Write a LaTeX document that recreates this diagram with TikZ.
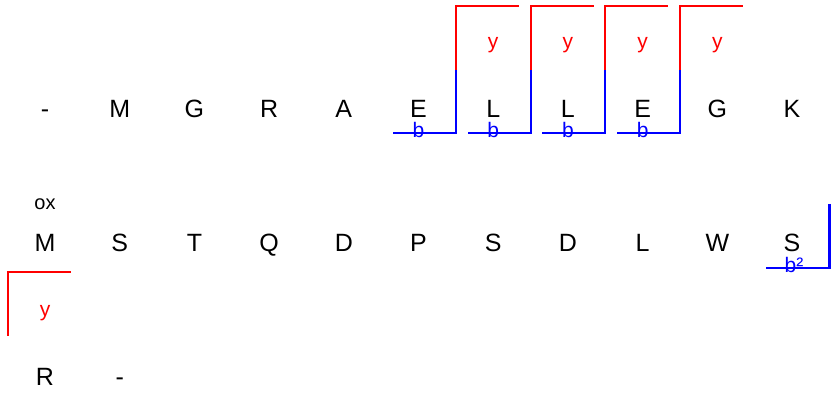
\documentclass[tikz,border=0pt]{standalone}
\usepackage{fontspec}
\setmainfont{Liberation Sans}
\usetikzlibrary{positioning}

\begin{document}
\begin{tikzpicture}[x=1pt,y=1pt,
  res/.style={font=\fontsize{25}{30}\selectfont,anchor=base,inner sep=0pt},
  ylbl/.style={font=\fontsize{21}{25}\selectfont,text=red,anchor=base,inner sep=0pt},
  blbl/.style={font=\fontsize{21}{25}\selectfont,text=blue,anchor=base,inner sep=0pt},
  modlbl/.style={font=\fontsize{20}{24}\selectfont,anchor=base,inner sep=0pt},
  yion/.style={draw=red,line width=2.2pt},
  bion/.style={draw=blue,line width=2.2pt}]
\useasboundingbox (0,0) rectangle (833,-403);
% row 1
\node[res] (a0) at (45,-117.5)    {-};
\node[res] (a1) at (119.7,-117.5) {M};
\node[res] (a2) at (194.4,-117.5) {G};
\node[res] (a3) at (269.1,-117.5) {R};
\node[res] (a4) at (343.8,-117.5) {A};
\node[res] (a5) at (418.5,-117.5) {E};
\node[res] (a6) at (493.2,-117.5) {L};
\node[res] (a7) at (567.9,-117.5) {L};
\node[res] (a8) at (642.6,-117.5) {E};
\node[res] (a9) at (717.3,-117.5) {G};
\node[res] (a10) at (792,-117.5)  {K};
% row 2
\node[modlbl] (ox) at (45,-209.5) {ox};
\node[res] (b1) at (45,-251.5)    {M};
\node[res] (b2) at (119.7,-251.5) {S};
\node[res] (b3) at (194.4,-251.5) {T};
\node[res] (b4) at (269.1,-251.5) {Q};
\node[res] (b5) at (343.8,-251.5) {D};
\node[res] (b6) at (418.5,-251.5) {P};
\node[res] (b7) at (493.2,-251.5) {S};
\node[res] (b8) at (567.9,-251.5) {D};
\node[res] (b9) at (642.6,-251.5) {L};
\node[res] (b10) at (717.3,-251.5){W};
\node[res] (b11) at (792,-251.5)  {S};
% row 3
\node[res] (c1) at (45,-385.5)    {R};
\node[res] (c2) at (119.7,-385.5) {-};
% fragment labels
\node[ylbl] (y1) at (493.2,-49) {y};
\node[ylbl] (y2) at (567.9,-49) {y};
\node[ylbl] (y3) at (642.6,-49) {y};
\node[ylbl] (y4) at (717.3,-49) {y};
\node[ylbl] (y5) at (45,-316.5) {y};
\node[blbl] (bb1) at (418.5,-138) {b};
\node[blbl] (bb2) at (493.2,-138) {b};
\node[blbl] (bb3) at (567.9,-138) {b};
\node[blbl] (bb4) at (642.6,-138) {b};
\node[blbl] (bb5) at (794,-272.5) {b²};
% cleavage marks
\coordinate (k1) at (455.9,-70); \coordinate (k2) at (530.6,-70);
\coordinate (k3) at (605.3,-70); \coordinate (k4) at (680,-70);
\coordinate (k5) at (829.4,-204); \coordinate (k6) at (7.7,-336);
\draw[yion] (k1) -- ++(0,64) -- ++(63,0); \draw[bion] (k1) -- ++(0,-63) -- ++(-63,0);
\draw[yion] (k2) -- ++(0,64) -- ++(63,0); \draw[bion] (k2) -- ++(0,-63) -- ++(-63,0);
\draw[yion] (k3) -- ++(0,64) -- ++(63,0); \draw[bion] (k3) -- ++(0,-63) -- ++(-63,0);
\draw[yion] (k4) -- ++(0,64) -- ++(63,0); \draw[bion] (k4) -- ++(0,-63) -- ++(-63,0);
\draw[bion] (k5) -- ++(0,-64) -- ++(-63,0);
\draw[yion] (k6) -- ++(0,64) -- ++(63,0);
\end{tikzpicture}
\end{document}
